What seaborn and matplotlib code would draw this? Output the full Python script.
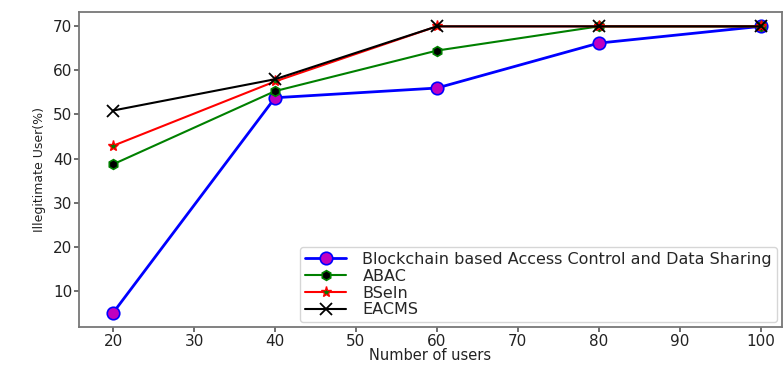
import matplotlib
matplotlib.use("Agg")
import matplotlib.pyplot as plt
import seaborn as sns
import pandas as pd

users = [20, 40, 60, 80, 100]
blockchain_acds = [5.0, 53.8, 56.0, 66.2, 70.0]
abac = [38.7, 55.3, 64.5, 70.0, 70.0]
bsein = [42.9, 57.5, 70.0, 70.0, 70.0]
eacms = [50.9, 58.0, 70.0, 70.0, 70.0]

series_names = ["Blockchain based Access Control and Data Sharing", "ABAC", "BSeIn", "EACMS"]

sns.set_style("ticks")
plt.rcParams["font.family"] = ["DejaVu Sans"]

df = pd.DataFrame({
    "users": users * 4,
    "value": blockchain_acds + abac + bsein + eacms,
    "method": sum([[n] * len(users) for n in series_names], []),
})

fig = plt.figure(figsize=(7.84, 3.65), dpi=100)
ax = fig.add_axes([0.101, 0.104, 0.896, 0.863])

styles = {
    series_names[0]: dict(color="blue", marker="o", markerfacecolor="m", markeredgecolor="blue",
                          markersize=9, markeredgewidth=1.2, linewidth=2.0),
    series_names[1]: dict(color="green", marker="h", markerfacecolor="black", markeredgecolor="green",
                          markersize=7, markeredgewidth=1.2, linewidth=1.5),
    series_names[2]: dict(color="red", marker="*", markerfacecolor="green", markeredgecolor="red",
                          markersize=8, markeredgewidth=1.0, linewidth=1.5),
    series_names[3]: dict(color="black", marker="x", markeredgecolor="black",
                          markersize=8, markeredgewidth=1.3, linewidth=1.5),
}

for name in series_names:
    sub = df[df["method"] == name]
    sns.lineplot(data=sub, x="users", y="value", ax=ax, label=name, **styles[name])

ax.set_xlim(15.8, 102.6)
ax.set_ylim(1.75, 73.25)
ax.set_xticks(range(20, 101, 10))
ax.set_yticks(range(10, 71, 10))
ax.tick_params(labelsize=11, labelcolor="#222222", color="#555555", length=3.5, width=1.2, pad=1.5)
for s in ax.spines.values():
    s.set_color("#777777")
    s.set_linewidth(1.3)

ax.set_xlabel("Number of users", fontsize=10.5, color="#222222")
ax.xaxis.set_label_coords(0.5, -0.066)
ax.set_ylabel("Illegitimate User(%)", fontsize=9, labelpad=5, color="#222222")

leg = ax.legend(loc="lower right", fontsize=11.5, frameon=True, handlelength=2.6,
                borderaxespad=0.3, labelspacing=0.12, borderpad=0.3, handletextpad=1.0)
leg.get_frame().set_edgecolor("#cccccc")

fig.savefig("out.png", dpi=100)
